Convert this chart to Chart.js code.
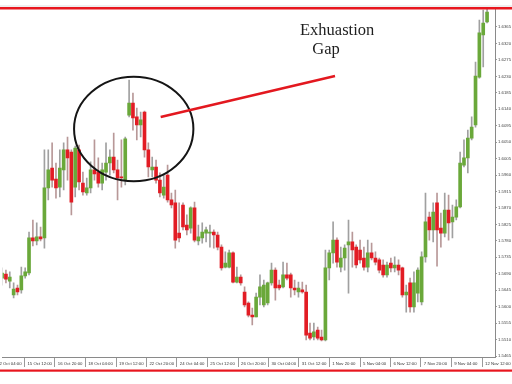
<!DOCTYPE html>
<html><head><meta charset="utf-8">
<script src="https://cdn.jsdelivr.net/npm/chart.js@4.4.1/dist/chart.umd.min.js"></script>
<style>html,body{margin:0;padding:0;background:#fff;overflow:hidden}#c{display:block}</style>
</head><body>
<canvas id="c" width="512" height="384"></canvas>
<script>
// 4-hour candles
const opens=[1.5678,1.5689,1.5670,1.5632,1.5651,1.5646,1.5684,1.5692,1.5788,1.5780,
1.5791,1.5788,1.5925,1.5979,1.5949,1.5927,1.5974,1.6029,1.6023,1.5927,
1.6029,1.5938,1.5911,1.5925,1.5974,1.5968,1.5938,1.5968,1.5993,1.6009,
1.5974,1.5955,1.5946,1.6124,1.6157,1.6119,1.6097,1.6132,1.6029,1.5974,
1.5982,1.5946,1.5905,1.5960,1.5892,1.5884,1.5801,1.5878,1.5823,1.5815,
1.5870,1.5780,1.5788,1.5801,1.5801,1.5804,1.5796,1.5763,1.5708,1.5708,
1.5747,1.5667,1.5681,1.5640,1.5610,1.5577,1.5572,1.5626,1.5605,1.5610,
1.5665,1.5700,1.5659,1.5654,1.5687,1.5687,1.5651,1.5640,1.5646,1.5640,
1.5528,1.5517,1.5536,1.5517,1.5509,1.5706,1.5747,1.5782,1.5708,1.5733,
1.5769,1.5777,1.5763,1.5755,1.5733,1.5708,1.5747,1.5733,1.5728,1.5714,
1.5687,1.5719,1.5706,1.5714,1.5706,1.5632,1.5665,1.5599,1.5637,1.5613,
1.5736,1.5845,1.5810,1.5884,1.5815,1.5801,1.5864,1.5832,1.5845,1.5873,
1.5987,1.6007,1.6061,1.6097,1.6228,1.6343,1.6379];
const highs=[1.5706,1.5700,1.5695,1.5665,1.5659,1.5708,1.5706,1.5804,1.5837,1.5829,
1.5818,1.6029,1.6029,1.6048,1.5993,1.6029,1.6048,1.6064,1.6029,1.6039,
1.6042,1.5968,1.5952,1.5996,1.6056,1.6007,1.5993,1.6048,1.6029,1.6075,
1.6001,1.6056,1.6064,1.6220,1.6184,1.6143,1.6132,1.6135,1.6048,1.6009,
1.6001,1.5966,1.5960,1.5987,1.5911,1.5919,1.5884,1.5884,1.5851,1.5873,
1.5886,1.5823,1.5829,1.5818,1.5823,1.5810,1.5804,1.5769,1.5750,1.5755,
1.5750,1.5708,1.5687,1.5654,1.5613,1.5596,1.5637,1.5687,1.5673,1.5667,
1.5719,1.5706,1.5673,1.5722,1.5719,1.5692,1.5673,1.5667,1.5667,1.5659,
1.5555,1.5555,1.5544,1.5536,1.5755,1.5755,1.5832,1.5788,1.5763,1.5769,
1.5837,1.5804,1.5769,1.5782,1.5763,1.5782,1.5774,1.5750,1.5733,1.5728,
1.5722,1.5733,1.5736,1.5728,1.5708,1.5659,1.5678,1.5695,1.5706,1.5750,
1.5911,1.5859,1.5884,1.5911,1.5856,1.5911,1.5905,1.5878,1.5892,1.6023,
1.6056,1.6083,1.6119,1.6269,1.6384,1.6411,1.6417];
const lows=[1.5659,1.5665,1.5651,1.5624,1.5632,1.5637,1.5678,1.5687,1.5766,1.5769,
1.5780,1.5760,1.5892,1.5927,1.5897,1.5900,1.5919,1.5946,1.5851,1.5900,
1.5919,1.5905,1.5905,1.5911,1.5946,1.5927,1.5919,1.5946,1.5960,1.5966,
1.5892,1.5927,1.5933,1.6119,1.6083,1.6056,1.6064,1.6009,1.5955,1.5955,
1.5938,1.5900,1.5897,1.5886,1.5870,1.5760,1.5777,1.5810,1.5796,1.5801,
1.5777,1.5769,1.5774,1.5777,1.5763,1.5760,1.5755,1.5700,1.5706,1.5706,
1.5665,1.5665,1.5659,1.5599,1.5572,1.5550,1.5572,1.5605,1.5599,1.5605,
1.5659,1.5618,1.5646,1.5651,1.5673,1.5626,1.5632,1.5626,1.5637,1.5509,
1.5509,1.5509,1.5509,1.5506,1.5506,1.5673,1.5719,1.5708,1.5695,1.5700,
1.5637,1.5708,1.5706,1.5719,1.5700,1.5695,1.5728,1.5714,1.5692,1.5681,
1.5681,1.5695,1.5695,1.5687,1.5626,1.5585,1.5585,1.5585,1.5613,1.5605,
1.5722,1.5782,1.5777,1.5711,1.5763,1.5791,1.5782,1.5788,1.5837,1.5870,
1.5982,1.5966,1.6056,1.6091,1.6225,1.6256,1.6376];
const closes=[1.5692,1.5675,1.5681,1.5648,1.5640,1.5684,1.5695,1.5788,1.5780,1.5791,
1.5785,1.5925,1.5974,1.5946,1.5925,1.5979,1.6029,1.6007,1.5886,1.6034,
1.5941,1.5914,1.5925,1.5974,1.5963,1.5938,1.5974,1.5993,1.6009,1.5974,
1.5952,1.5952,1.6059,1.6157,1.6116,1.6097,1.6111,1.6029,1.5982,1.5982,
1.5946,1.5911,1.5927,1.5892,1.5878,1.5782,1.5788,1.5818,1.5810,1.5870,
1.5782,1.5791,1.5804,1.5810,1.5804,1.5796,1.5763,1.5706,1.5719,1.5747,
1.5667,1.5681,1.5665,1.5605,1.5577,1.5572,1.5626,1.5654,1.5659,1.5665,
1.5700,1.5651,1.5651,1.5687,1.5678,1.5651,1.5646,1.5651,1.5640,1.5522,
1.5514,1.5531,1.5514,1.5509,1.5706,1.5747,1.5782,1.5722,1.5733,1.5760,
1.5777,1.5755,1.5714,1.5728,1.5708,1.5747,1.5733,1.5722,1.5700,1.5687,
1.5714,1.5706,1.5714,1.5700,1.5632,1.5640,1.5599,1.5665,1.5700,1.5736,
1.5832,1.5810,1.5859,1.5810,1.5801,1.5864,1.5829,1.5845,1.5873,1.5993,
1.6007,1.6061,1.6091,1.6231,1.6349,1.6376,1.6406];

// time axis labels and the bar positions they sit at
const xTickLabels=['12 Oct 04:00','15 Oct 12:00','16 Oct 20:00','18 Oct 04:00','19 Oct 12:00','22 Oct 20:00','24 Oct 04:00','25 Oct 12:00','26 Oct 20:00','30 Oct 04:00','31 Oct 12:00','1 Nov 20:00','5 Nov 04:00','6 Nov 12:00','7 Nov 20:00','9 Nov 04:00','12 Nov 12:00'];
const xTickBars=[-2.1,5.8,13.7,21.6,29.6,37.5,45.4,53.3,61.3,69.2,77.1,85.0,93.0,100.9,108.8,116.7,124.7];
// price axis labels
const yTickLabels=['1.5465','1.5510','1.5555','1.5600','1.5645','1.5690','1.5735','1.5780','1.5825','1.5870','1.5915','1.5960','1.6005','1.6050','1.6095','1.6140','1.6185','1.6230','1.6275','1.6320','1.6365'];

const bars=opens.map((_,i)=>i);
const isUp=i=>closes[i]>=opens[i];
const GREEN='#6aa83a', RED='#e21c24';

// annotation anchored in data units (bar index, price)
const note={ellipse:{bar:34.2,price:1.6086,rBars:15.5,rPrice:0.0143},
  line:{from:[41.2,1.6119],to:[86.5,1.6231]},
  title:{text:'Exhuastion',bar:77.4,price:1.6343},
  sub:{text:'Gap',bar:80.6,price:1.6290}};

const overlay={id:'overlay',afterDraw(chart){
  const {ctx,scales:{x,y}}=chart;
  ctx.save();
  const e=note.ellipse;
  const cx=x.getPixelForValue(e.bar), cy=y.getPixelForValue(e.price);
  const rx=x.getPixelForValue(e.bar+e.rBars)-cx, ry=y.getPixelForValue(e.price-e.rPrice)-cy;
  ctx.beginPath();ctx.ellipse(cx,cy,rx,ry,0,0,Math.PI*2);
  ctx.lineWidth=2;ctx.strokeStyle='#151515';ctx.stroke();
  const l=note.line;
  ctx.beginPath();
  ctx.moveTo(x.getPixelForValue(l.from[0]),y.getPixelForValue(l.from[1]));
  ctx.lineTo(x.getPixelForValue(l.to[0]),y.getPixelForValue(l.to[1]));
  ctx.lineWidth=2.5;ctx.strokeStyle='#e3181f';ctx.stroke();
  ctx.font='16.5px "Liberation Serif","Times New Roman",serif';
  ctx.fillStyle='#1e1e1e';ctx.textAlign='left';ctx.textBaseline='alphabetic';
  ctx.fillText(note.title.text,x.getPixelForValue(note.title.bar),y.getPixelForValue(note.title.price));
  ctx.fillText(note.sub.text,x.getPixelForValue(note.sub.bar),y.getPixelForValue(note.sub.price));
  // page frame lines
  ctx.fillStyle='#e0e0e0';ctx.fillRect(0,5.5,512,1);
  ctx.fillStyle='#e8161e';ctx.fillRect(0,7,512,2.5);ctx.fillRect(0,369.5,512,2.2);
  ctx.restore();
}};

new Chart(document.getElementById('c'),{
  type:'bar',
  data:{datasets:[
    {label:'body',data:bars.map(i=>({x:i,y:[opens[i],closes[i]]})),
     backgroundColor:c=>isUp(c.dataIndex)?GREEN:RED,barThickness:3,grouped:false,minBarLength:1,borderWidth:0},
    {label:'wick',data:bars.map(i=>({x:i,y:[lows[i],highs[i]]})),
     backgroundColor:c=>isUp(c.dataIndex)?'#a0a0a0':'#b89898',barThickness:1,grouped:false,borderWidth:0}
  ]},
  options:{
    responsive:false,animation:false,devicePixelRatio:1,
    layout:{padding:{top:9,left:0,right:0,bottom:0}},
    plugins:{legend:{display:false},tooltip:{enabled:false}},
    scales:{
      x:{type:'linear',min:0.155,max:128.06,bounds:'data',offset:false,
        afterBuildTicks:s=>{s.ticks=xTickBars.map(v=>({value:v}));},
        afterFit:s=>{s.height=27;},
        ticks:{autoSkip:false,maxRotation:0,minRotation:0,align:'start',labelOffset:3,padding:-6,
          font:{size:4.3,family:'Liberation Sans'},color:'#333',callback:(v,i)=>xTickLabels[i]},
        grid:{drawOnChartArea:false,offset:false,tickLength:10,color:'#9a9a9a',lineWidth:1},
        border:{color:'#8a8a8a',width:1}},
      y:{position:'right',min:1.54623,max:1.64142,bounds:'data',
        afterBuildTicks:s=>{s.ticks=yTickLabels.map(v=>({value:parseFloat(v)}));},
        afterFit:s=>{s.width=17;},
        ticks:{font:{size:4.3,family:'Liberation Sans'},color:'#444',padding:1,callback:(v,i)=>yTickLabels[i]},
        grid:{drawOnChartArea:false,tickLength:2,color:'#9a9a9a'},
        border:{color:'#8a8a8a',width:1}}
    }
  },
  plugins:[overlay]
});
</script>
</body></html>
